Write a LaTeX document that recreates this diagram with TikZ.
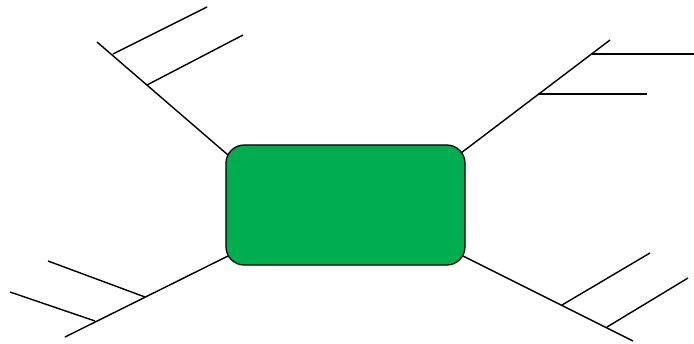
\documentclass[tikz,border=0pt]{standalone}
\usepackage{xcolor}
\usepackage{tikz}
\usetikzlibrary{positioning}

\definecolor{boxgreen}{HTML}{00AE50}

\begin{document}
\begin{tikzpicture}[
    x=0.025cm, y=-0.025cm,
    centre/.style={
        rectangle,
        rounded corners=13pt,
        draw,
        fill=boxgreen,
        line width=0.9pt,
        minimum width=5.975cm,
        minimum height=3cm
    },
    limb/.style={
        line width=1pt
    }
]
\useasboundingbox (0,0) rectangle (694,343);

\node[centre] (box) at (345.5,205) {};

% top left
\coordinate (tlin) at (228,155);
\coordinate (tlend) at (97,42);
\coordinate (tla) at (113,54);
\coordinate (tlb) at (147,85);
\coordinate (tlaend) at (207,7);
\coordinate (tlbend) at (243,35);
\draw[limb] (tlin) -- (tlend);
\draw[limb] (tla) -- (tlaend);
\draw[limb] (tlb) -- (tlbend);

% top right
\coordinate (trin) at (461,153);
\coordinate (trend) at (610,40);
\coordinate (tra) at (592,54);
\coordinate (trb) at (538,94);
\coordinate (traend) at (694,54);
\coordinate (trbend) at (647,94);
\draw[limb] (trin) -- (trend);
\draw[limb] (tra) -- (traend);
\draw[limb] (trb) -- (trbend);

% bottom left
\coordinate (blin) at (228,256);
\coordinate (blend) at (65,337);
\coordinate (bla) at (145,297);
\coordinate (blb) at (95,321);
\coordinate (blaend) at (48,261);
\coordinate (blbend) at (10,292);
\draw[limb] (blin) -- (blend);
\draw[limb] (bla) -- (blaend);
\draw[limb] (blb) -- (blbend);

% bottom right
\coordinate (brin) at (463,256);
\coordinate (brend) at (633,341);
\coordinate (bra) at (562,305);
\coordinate (brb) at (607,327);
\coordinate (braend) at (650,253);
\coordinate (brbend) at (688,278);
\draw[limb] (brin) -- (brend);
\draw[limb] (bra) -- (braend);
\draw[limb] (brb) -- (brbend);

\end{tikzpicture}
\end{document}
